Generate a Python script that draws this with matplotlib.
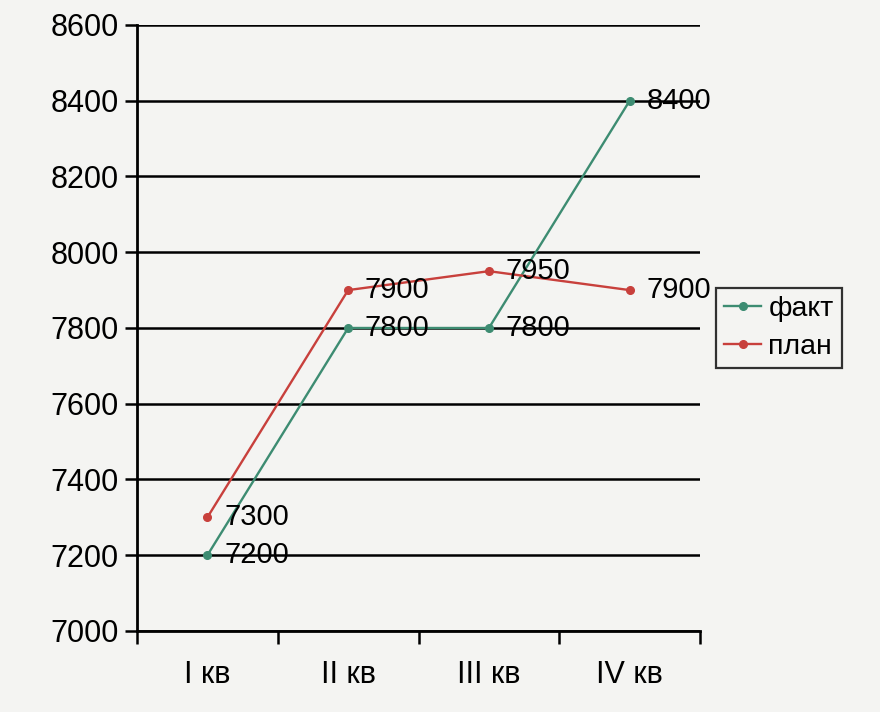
import matplotlib
matplotlib.use("Agg")
import matplotlib.pyplot as plt
import numpy as np

# quarters and values
categories = ["I кв", "II кв", "III кв", "IV кв"]
fact = [7200, 7800, 7800, 8400]
plan = [7300, 7900, 7950, 7900]

plt.rcParams['font.family'] = ['Liberation Sans', 'DejaVu Sans']

bg = '#f4f4f2'
green = '#3d8c72'
red = '#c8403c'

fig = plt.figure(figsize=(8.8, 7.12), dpi=100, facecolor=bg)
ax = fig.add_axes([0.1557, 0.1138, 0.6398, 0.8511], facecolor=bg)

x = np.arange(len(categories))
ax.plot(x, fact, color=green, lw=1.7, marker='o', ms=5.5, label='факт', zorder=3)
ax.plot(x, plan, color=red, lw=1.7, marker='o', ms=5.5, label='план', zorder=3)

# data labels to the right of each point
for xi, v in zip(x, fact):
    ax.annotate(str(v), (xi, v), xytext=(12, 0), textcoords='offset points',
                va='center', ha='left', fontsize=21, zorder=4)
for xi, v in zip(x, plan):
    ax.annotate(str(v), (xi, v), xytext=(12, 0), textcoords='offset points',
                va='center', ha='left', fontsize=21, zorder=4)

ax.set_xlim(-0.5, len(categories) - 0.5)
ax.set_ylim(7000, 8600)
ax.set_yticks(np.arange(7000, 8601, 200))
ax.yaxis.grid(True, color='black', lw=1.8)
ax.set_axisbelow(True)

# category axis with ticks between categories
ax.set_xticks(np.arange(-0.5, len(categories), 1.0))
ax.set_xticklabels([])
ax.set_xticks(x, minor=True)
ax.set_xticklabels(categories, minor=True, fontsize=22)
ax.tick_params(axis='x', which='minor', length=0, pad=21)
ax.tick_params(axis='x', which='major', length=9, width=1.8, color='black')
ax.tick_params(axis='y', length=9, width=1.8, labelsize=22, pad=4)

for side in ['top', 'right']:
    ax.spines[side].set_visible(False)
for side in ['left', 'bottom']:
    ax.spines[side].set_linewidth(2.0)
    ax.spines[side].set_color('black')

leg = ax.legend(loc='center left', bbox_to_anchor=(1.028, 0.5), fontsize=20.5,
                frameon=True, fancybox=False, edgecolor='black',
                handlelength=1.3, handletextpad=0.25, borderpad=0.3,
                labelspacing=0.4, borderaxespad=0.0)
leg.get_frame().set_facecolor(bg)
leg.get_frame().set_linewidth(1.6)

fig.savefig('out.png', dpi=100, facecolor=bg)
